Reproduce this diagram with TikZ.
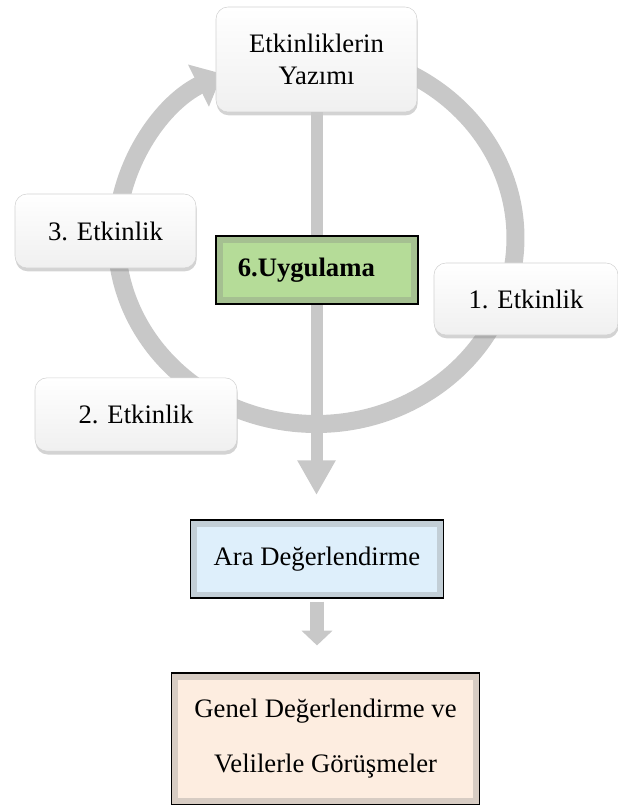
\documentclass[tikz,border=0pt]{standalone}
\usepackage{fontspec}
\setmainfont{Liberation Serif}
\usetikzlibrary{positioning,arrows.meta,shadows}
\definecolor{ringgray}{RGB}{200,200,200}
\definecolor{uygulamagreen}{RGB}{181,220,152}
\definecolor{arablue}{RGB}{222,239,251}
\definecolor{genelpeach}{RGB}{253,237,224}

\begin{document}
\begin{tikzpicture}[
    x=0.75pt,
    y=-0.75pt,
    node distance=1cm,
    font=\fontsize{20}{24}\selectfont,
    step node/.style={draw=gray!35,line width=0.4pt,rounded corners=9pt,top color=white,bottom color=gray!12,
      drop shadow={shadow xshift=0.5pt,shadow yshift=-2.5pt,opacity=0.35},align=center,inner sep=0pt},
    bevel node/.style={draw=black,line width=1.2pt,fill=#1!70!gray,inner sep=0pt,align=center,
      path picture={\fill[#1] ([shift={(5pt,-5pt)}]path picture bounding box.north west)
        rectangle ([shift={(-5pt,5pt)}]path picture bounding box.south east);}},
    ring/.style={draw=ringgray,line width=13.5pt},
    bar/.style={draw=ringgray,line width=9pt}
    ]

    \useasboundingbox (0,0) rectangle (617,805);

    % the cycle
    \coordinate (ringc) at (316,238);
    \draw[ring,-{Triangle[width=34pt,length=20pt]}] (ringc) ++(85:149.6pt and 139.5pt)
      arc[start angle=85,end angle=-242,x radius=149.6pt,y radius=139.5pt];

    \node[step node,minimum width=150.75pt,minimum height=78.75pt] (yazim) at (316.5,59.5) {Etkinliklerin\\Yazımı};

    \coordinate (tip) at (316.5,495);
    \draw[bar,-{Triangle[width=27pt,length=26pt]}] (yazim.south) -- (tip);

    \node[step node,minimum width=135.75pt,minimum height=55.5pt] (etk3) at (105.5,231) {3. Etkinlik};
    \node[step node,minimum width=138pt,minimum height=54pt] (etk1) at (526,299) {1. Etkinlik};
    \node[step node,minimum width=151.5pt,minimum height=55pt] (etk2) at (136,414.5) {2. Etkinlik};

    \node[bevel node=uygulamagreen,minimum width=151.5pt,minimum height=51pt] (uyg) at (317,270) {\textbf{6.Uygulama}\hspace*{16pt}};

    % evaluation
    \node[bevel node=arablue,minimum width=190pt,minimum height=58.5pt] (ara) [below=161pt of uyg] {Ara Değerlendirme};
    \node[bevel node=genelpeach,minimum width=231pt,minimum height=99pt] (genel) [below=54.75pt of ara,xshift=6.4pt]
      {Genel Değerlendirme ve\\[17pt]Velilerle Görüşmeler};

    \draw[bar,line width=10.5pt,-{Triangle[width=22.5pt,length=11pt]},shorten <=2pt,shorten >=20pt]
      (ara.south) -- (ara.south |- genel.north);
  \end{tikzpicture}
\end{document}
